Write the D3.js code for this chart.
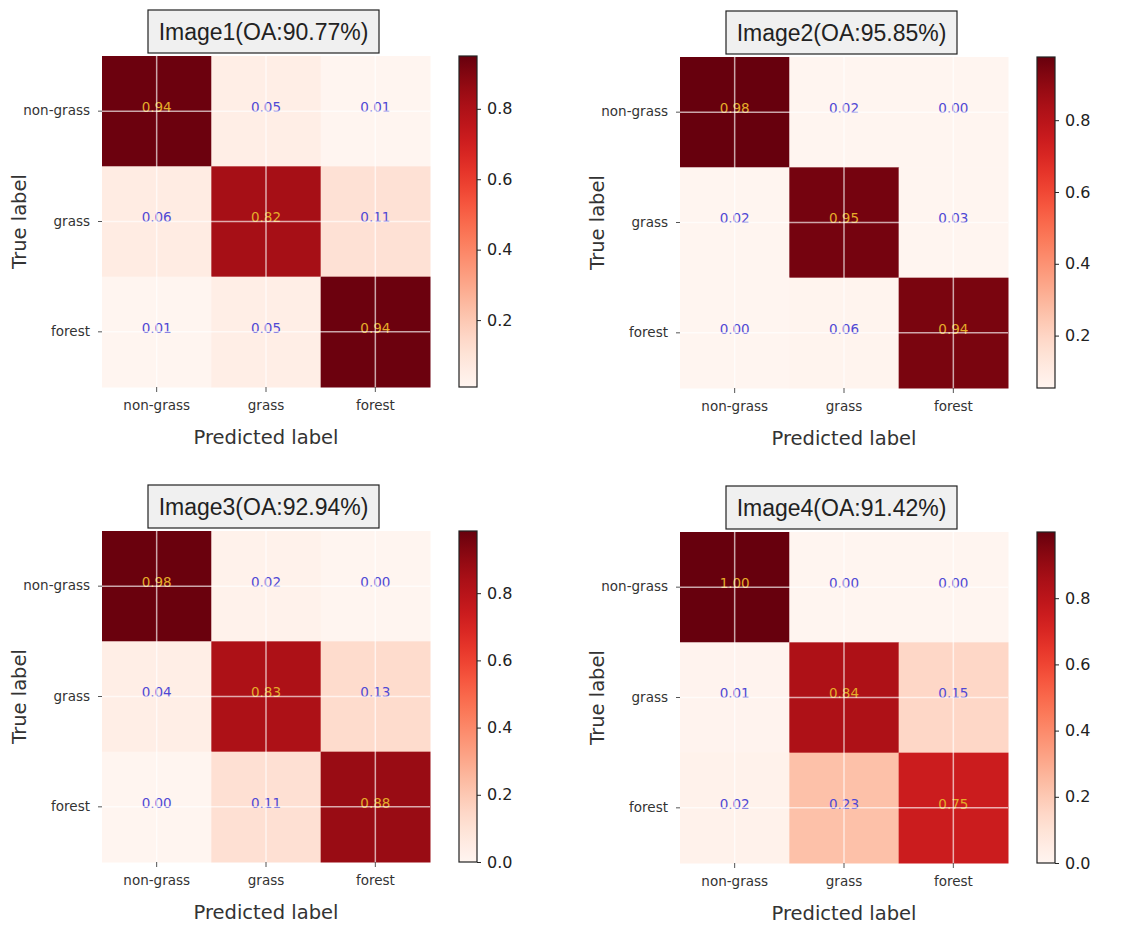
<!DOCTYPE html>
<html>
<head>
<meta charset="utf-8">
<script src="https://cdn.jsdelivr.net/npm/d3@7"></script>
<style>
body{margin:0;background:#fff}
</style>
</head>
<body>
<div id="chart"></div>
<script>
// datos
var categories=["non-grass","grass","forest"]
var titles=["Image1(OA:90.77%)","Image2(OA:95.85%)","Image3(OA:92.94%)","Image4(OA:91.42%)"]
var matrix1=[[0.94,0.05,0.01],[0.06,0.82,0.11],[0.01,0.05,0.94]]
var matrix2=[[0.98,0.02,0.00],[0.02,0.95,0.03],[0.00,0.06,0.94]]
var matrix3=[[0.98,0.02,0.00],[0.04,0.83,0.13],[0.00,0.11,0.88]]
var matrix4=[[1.00,0.00,0.00],[0.01,0.84,0.15],[0.02,0.23,0.75]]
var matrices=[matrix1,matrix2,matrix3,matrix4]
// extremos de cada barra de color
var cbarRange=[[0.01,0.95],[0.054,0.976],[0,0.985],[0,1.0]]
var cbarTicks=[0,0.2,0.4,0.6,0.8]

//Posicion de cada panel (esquina superior izquierda de la matriz)
var origins=[[102,56],[680,57],[102,531],[680,532]]
var W=328,H=331

var svg=d3.select("#chart")
	.append("svg")
	.attr("width",1141)
	.attr("height",926)
	.style("font-family","'DejaVu Sans',sans-serif")

matrices.forEach(function(m,i){
	panel(m,i)
})

function panel(m,i){
	var g=svg.append("g")
		.attr("transform","translate("+origins[i][0]+","+origins[i][1]+")")

	var escalaX=d3.scaleBand().domain(categories).range([0,W])
	var escalaY=d3.scaleBand().domain(categories).range([0,H])
	var color=d3.scaleSequential(d3.interpolateReds).domain(cbarRange[i]).clamp(true)

	var celdas=[]
	m.forEach(function(fila,r){
		fila.forEach(function(v,c){
			celdas.push({fila:categories[r],col:categories[c],v:v,diag:r==c})
		})
	})

	g.selectAll("rect.celda")
		.data(celdas)
		.enter()
		.append("rect")
		.attr("class","celda")
		.attr("x",d=>escalaX(d.col))
		.attr("y",d=>escalaY(d.fila))
		.attr("width",escalaX.bandwidth()+0.5)
		.attr("height",escalaY.bandwidth()+0.5)
		.attr("fill",d=>color(d.v))

	g.selectAll("text.valor")
		.data(celdas)
		.enter()
		.append("text")
		.attr("class","valor")
		.attr("x",d=>escalaX(d.col)+escalaX.bandwidth()/2)
		.attr("y",d=>escalaY(d.fila)+escalaY.bandwidth()/2)
		.attr("text-anchor","middle")
		.attr("dy","0.05em")
		.style("font-size","13.5px")
		.attr("fill",d=>d.diag?"#e4ad2a":"#5048d4")
		.text(d=>d3.format(".2f")(d.v))

	//rejilla blanca en el centro de las celdas
	g.selectAll("line.gx")
		.data(categories)
		.enter()
		.append("line")
		.attr("x1",d=>escalaX(d)+escalaX.bandwidth()/2)
		.attr("x2",d=>escalaX(d)+escalaX.bandwidth()/2)
		.attr("y1",0)
		.attr("y2",H)
		.attr("stroke","#fff")
		.attr("stroke-opacity",0.65)
		.attr("stroke-width",1.5)
	g.selectAll("line.gy")
		.data(categories)
		.enter()
		.append("line")
		.attr("y1",d=>escalaY(d)+escalaY.bandwidth()/2)
		.attr("y2",d=>escalaY(d)+escalaY.bandwidth()/2)
		.attr("x1",0)
		.attr("x2",W)
		.attr("stroke","#fff")
		.attr("stroke-opacity",0.65)
		.attr("stroke-width",1.5)

	var ejeX=g.append("g")
		.attr("transform","translate(0,"+H+")")
		.call(d3.axisBottom(escalaX).tickSize(5).tickPadding(8))
	var ejeY=g.append("g")
		.call(d3.axisLeft(escalaY).tickSize(4).tickPadding(8))
	;[ejeX,ejeY].forEach(function(e){
		e.select(".domain").remove()
		e.selectAll("line").attr("stroke","#555")
		e.selectAll("text")
			.style("font-family","'DejaVu Sans',sans-serif")
			.style("font-size","13.5px")
			.attr("fill","#333")
	})

	g.append("text")
		.attr("x",W/2)
		.attr("y",H+57)
		.attr("text-anchor","middle")
		.style("font-size","19.5px")
		.attr("fill","#333")
		.text("Predicted label")
	g.append("text")
		.attr("transform","translate(-83,"+H/2+") rotate(-90)")
		.attr("text-anchor","middle")
		.attr("dy","0.35em")
		.style("font-size","19.5px")
		.attr("fill","#333")
		.text("True label")

	//Titulo en caja
	g.append("rect")
		.attr("x",46)
		.attr("y",-46)
		.attr("width",231)
		.attr("height",43)
		.attr("fill","#f0f0f0")
		.attr("stroke","#222")
		.attr("stroke-width",1.2)
	g.append("text")
		.attr("x",46+231/2)
		.attr("y",-46+43/2)
		.attr("dy","0.36em")
		.attr("text-anchor","middle")
		.style("font-family","'Liberation Sans',Arial,sans-serif")
		.style("font-size","23px")
		.attr("fill","#222")
		.text(titles[i])

	//Barra de color
	var cb=g.append("g").attr("transform","translate(357,0)")
	var idg="grad"+i
	var lg=svg.append("defs").append("linearGradient")
		.attr("id",idg)
		.attr("x1","0%").attr("y1","100%")
		.attr("x2","0%").attr("y2","0%")
	d3.range(0,1.0001,0.05).forEach(function(t){
		lg.append("stop")
			.attr("offset",(t*100)+"%")
			.attr("stop-color",d3.interpolateReds(t))
	})
	cb.append("rect")
		.attr("width",18)
		.attr("height",H)
		.attr("fill","url(#"+idg+")")
		.attr("stroke","#222")
		.attr("stroke-width",1.2)
	var escalaC=d3.scaleLinear().domain(cbarRange[i]).range([H,0])
	var ejeC=cb.append("g")
		.attr("transform","translate(18,0)")
		.call(d3.axisRight(escalaC)
			.tickValues(cbarTicks.filter(t=>t>=cbarRange[i][0]-1e-9&&t<=cbarRange[i][1]))
			.tickFormat(d3.format(".1f"))
			.tickSize(4).tickPadding(6))
	ejeC.select(".domain").remove()
	ejeC.selectAll("line").attr("stroke","#222")
	ejeC.selectAll("text")
		.style("font-family","'DejaVu Sans',sans-serif")
		.style("font-size","16px")
		.attr("fill","#222")
}
</script>
</body>
</html>
